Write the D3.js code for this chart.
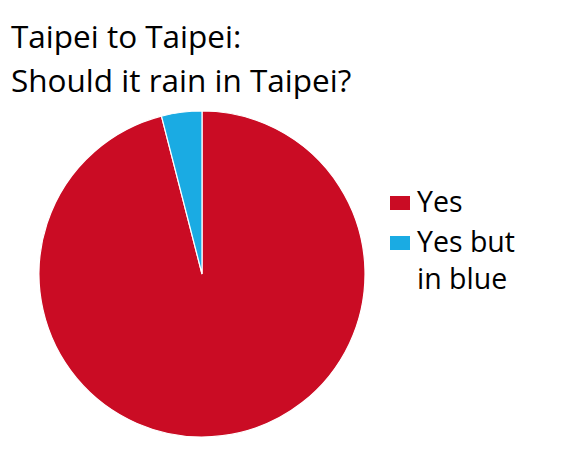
<!DOCTYPE html>
<html>
<head>
<meta charset="utf-8">
<script src="https://cdn.jsdelivr.net/npm/d3@7"></script>
<style>
body{margin:0;background:#fff}
text{font-family:"Open Sans",sans-serif;fill:#000}
</style>
</head>
<body>
<svg id="canvas" width="566" height="456"></svg>
<script>
const categories=["Yes","Yes but in blue"]
const values=[96,4]
const colors=["#CA0C24","#1AABE3"]
const legendLines=[["Yes"],["Yes but","in blue"]]
const titleLines=["Taipei to Taipei:","Should it rain in Taipei?"]

const svg=d3.select("#canvas")
svg.append("rect").attr("width",566).attr("height",456).attr("fill","#fff")

svg.selectAll(".title")
    .data(titleLines)
    .enter()
    .append("text")
    .attr("class","title")
    .attr("x",11)
    .attr("y",(d,i)=>48+i*44)
    .attr("font-size",31.5)
    .text(d=>d)

const color=d3.scaleOrdinal().domain(categories).range(colors)
const pie=d3.pie().sort(null).value(d=>d.value)
const arc=d3.arc().innerRadius(0).outerRadius(163)
const data=categories.map((c,i)=>({name:c,value:values[i]}))

const g=svg.append("g").attr("transform","translate(202,274)")
g.selectAll("path")
    .data(pie(data))
    .enter()
    .append("path")
    .attr("d",arc)
    .attr("fill",d=>color(d.data.name))
    .attr("stroke","#fff")
    .attr("stroke-width",1.2)

const legend=svg.selectAll(".legend")
    .data(categories)
    .enter()
    .append("g")
    .attr("class","legend")
    .attr("transform",(d,i)=>`translate(390,${196+i*40})`)
legend.append("rect")
    .attr("width",20)
    .attr("height",14)
    .attr("fill",d=>color(d))
legend.each(function(d,i){
    d3.select(this).selectAll("text")
        .data(legendLines[i])
        .enter()
        .append("text")
        .attr("x",27)
        .attr("y",(t,j)=>16+j*37)
        .attr("font-size",28.5)
        .text(t=>t)
})
</script>
</body>
</html>
